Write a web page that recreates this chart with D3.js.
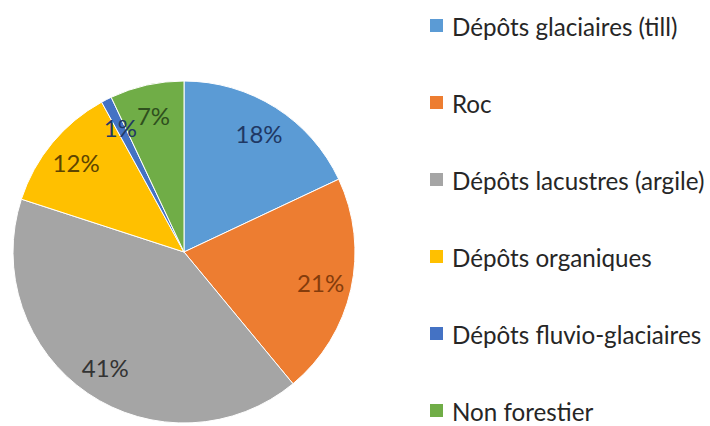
<!DOCTYPE html>
<html>
<head>
<meta charset="utf-8">
<script src="https://cdn.jsdelivr.net/npm/d3@7"></script>
<style>
  html, body { margin: 0; padding: 0; background: #fff; }
  svg { display: block; }
  text { font-family: Lato, "Open Sans", sans-serif; }
</style>
</head>
<body>
<svg id="chart" width="710" height="426"></svg>
<script>
// Répartition des dépôts de surface (%)
const categories = [
  "Dépôts glaciaires (till)",
  "Roc",
  "Dépôts lacustres (argile)",
  "Dépôts organiques",
  "Dépôts fluvio-glaciaires",
  "Non forestier"
];
const values = [18, 21, 41, 12, 1, 7];
const sliceColors = ["#5B9BD5", "#ED7D31", "#A5A5A5", "#FFC000", "#4472C4", "#70AD47"];
const labelColors = ["#1F3864", "#843C0C", "#333333", "#5E4500", "#203864", "#2F4F1E"];

const width = 710, height = 426;
const cx = 184, cy = 252, radius = 171;

const svg = d3.select("#chart");

const pie = d3.pie().sort(null).value(d => d.value);
const data = categories.map((c, i) => ({ name: c, value: values[i], i }));
const arcs = pie(data);

const arc = d3.arc().innerRadius(0).outerRadius(radius);
const labelArc = d3.arc().innerRadius(140).outerRadius(140);

const g = svg.append("g").attr("transform", `translate(${cx},${cy})`);

g.selectAll("path.slice")
  .data(arcs)
  .join("path")
  .attr("class", "slice")
  .attr("d", arc)
  .attr("fill", d => sliceColors[d.data.i])
  .attr("stroke", "#ffffff")
  .attr("stroke-width", 1);

g.selectAll("text.pct")
  .data(arcs)
  .join("text")
  .attr("class", "pct")
  .attr("transform", d => `translate(${labelArc.centroid(d)})`)
  .attr("text-anchor", "middle")
  .attr("dominant-baseline", "central")
  .attr("font-size", 24)
  .attr("fill", d => labelColors[d.data.i])
  .text(d => d3.format(".0f")(d.data.value) + "%");

// Légende
const legendY = d3.scalePoint()
  .domain(categories)
  .range([26, 411]);

const legend = svg.append("g");
const items = legend.selectAll("g.item")
  .data(data)
  .join("g")
  .attr("class", "item")
  .attr("transform", d => `translate(430,${legendY(d.name)})`);

items.append("rect")
  .attr("x", 0)
  .attr("y", -7)
  .attr("width", 13)
  .attr("height", 13)
  .attr("fill", d => sliceColors[d.i]);

items.append("text")
  .attr("x", 22)
  .attr("y", 0)
  .attr("dominant-baseline", "central")
  .attr("font-size", 24.2)
  .attr("fill", "#262626")
  .text(d => d.name);
</script>
</body>
</html>
